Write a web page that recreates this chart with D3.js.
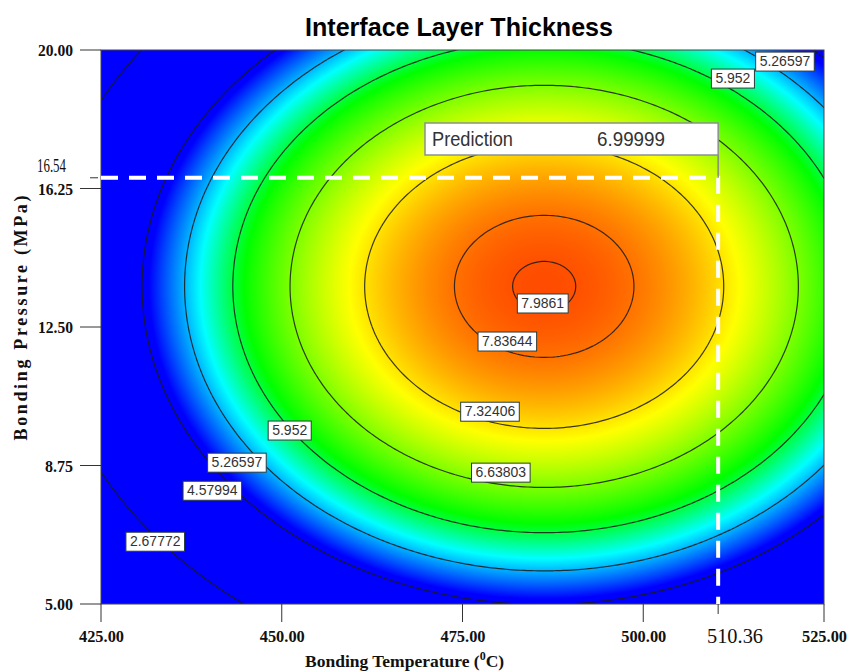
<!DOCTYPE html>
<html>
<head>
<meta charset="utf-8">
<title>Interface Layer Thickness</title>
<script src="https://cdn.jsdelivr.net/npm/d3@7"></script>
<style>
  body { margin: 0; background: #fff; }
  svg { display: block; }
</style>
</head>
<body>
<svg width="857" height="672"></svg>
<script>
// ---- data ----
const tempTicks = [425, 450, 475, 500, 525];
const pressTicks = [5, 8.75, 12.5, 16.25, 20];
const contourLevels = [2.67772, 4.57994, 5.26597, 5.952, 6.63803, 7.32406, 7.83644, 7.9861];

// fitted quadratic response surface (peak, centre, curvature)
const surfacePeak = 8.0073;
const surfaceCentre = [486.3, 13.6];       // temperature, pressure
const surfaceCurv = [1.108e-3, 0.0462];    // per degC^2, per MPa^2

// contour label spots (level, temperature, pressure)
const labelLevels = [7.9861, 7.83644, 7.32406, 6.63803, 5.952, 5.26597, 4.57994, 2.67772, 5.952, 5.26597];
const labelTemps  = [486.1, 481.2, 478.8, 480.3, 451.1, 443.8, 440.4, 432.5, 512.4, 519.6];
const labelPress  = [13.15, 12.12, 10.22, 8.57, 9.71, 8.84, 8.08, 6.70, 19.24, 19.70];

const prediction = { temp: 510.36, press: 16.54, value: "6.99999" };

// colour stops of the surface
const colourValues = [4.7, 5.5, 6.1, 7.2, 8.35];
const colourList = ["#0000ff", "#00ffff", "#00ff00", "#ffff00", "#ff0000"];

// ---- setup ----
const svg = d3.select("svg");
const x = d3.scaleLinear().domain([425, 525]).range([101, 824]);
const y = d3.scaleLinear().domain([5, 20]).range([604, 50]);
const colour = d3.scaleLinear().domain(colourValues).range(colourList).clamp(true);

function surface(t, p) {
  const dt = t - surfaceCentre[0], dp = p - surfaceCentre[1];
  return surfacePeak - surfaceCurv[0] * dt * dt - surfaceCurv[1] * dp * dp;
}

// heat map painted on a canvas, then placed as an image
const pw = Math.round(x(525) - x(425)), ph = Math.round(y(5) - y(20));
const canvas = document.createElement("canvas");
canvas.width = pw; canvas.height = ph;
const ctx = canvas.getContext("2d");
const img = ctx.createImageData(pw, ph);
for (let j = 0; j < ph; j++) {
  const p = y.invert(y(20) + j + 0.5);
  for (let i = 0; i < pw; i++) {
    const t = x.invert(x(425) + i + 0.5);
    const c = d3.rgb(colour(surface(t, p)));
    const k = (j * pw + i) * 4;
    img.data[k] = c.r; img.data[k + 1] = c.g; img.data[k + 2] = c.b; img.data[k + 3] = 255;
  }
}
ctx.putImageData(img, 0, 0);

svg.append("defs").append("clipPath").attr("id", "plotclip")
  .append("rect").attr("x", x(425)).attr("y", y(20)).attr("width", pw).attr("height", ph);

svg.append("image")
  .attr("x", x(425)).attr("y", y(20))
  .attr("width", pw).attr("height", ph)
  .attr("preserveAspectRatio", "none")
  .attr("href", canvas.toDataURL());

// contour lines, grid spans past the plot so ring borders fall outside the clip
const t0 = 410, t1 = 540, p0 = 2, p1 = 23;
const nx = 261, ny = 211;
const dT = (t1 - t0) / (nx - 1), dP = (p1 - p0) / (ny - 1);
const grid = new Array(nx * ny);
for (let j = 0; j < ny; j++) {
  for (let i = 0; i < nx; i++) {
    grid[j * nx + i] = surface(t0 + i * dT, p1 - j * dP);
  }
}
const contours = d3.contours().size([nx, ny]).thresholds(contourLevels)(grid);
const path = d3.geoPath(d3.geoTransform({
  point: function(px, py) {
    this.stream.point(x(t0 + (px - 0.5) * dT), y(p1 - (py - 0.5) * dP));
  }
}));

svg.append("g").attr("clip-path", "url(#plotclip)")
  .selectAll("path")
  .data(contours)
  .join("path")
    .attr("d", path)
    .attr("fill", "none")
    .attr("stroke", "#1a1a1a")
    .attr("stroke-width", 1.2)
    .attr("opacity", 0.85);

// plot frame
svg.append("rect")
  .attr("x", x(425)).attr("y", y(20)).attr("width", pw).attr("height", ph)
  .attr("fill", "none").attr("stroke", "#444").attr("stroke-width", 1);

// prediction guides
svg.append("path")
  .attr("d", `M${x(425)},${y(prediction.press)}H${x(prediction.temp)}V${y(5)}`)
  .attr("fill", "none")
  .attr("stroke", "#ffffff")
  .attr("stroke-width", 4)
  .attr("stroke-dasharray", "17,11");

// contour labels
const labels = svg.append("g");
labelLevels.forEach((lv, i) => {
  const cx = x(labelTemps[i]), cy = y(labelPress[i]);
  const g = labels.append("g");
  const txt = g.append("text")
    .attr("x", cx).attr("y", cy + 5)
    .attr("text-anchor", "middle")
    .attr("font-family", "Liberation Sans, Arial, sans-serif")
    .attr("font-size", 14)
    .attr("fill", "#333")
    .text(String(lv));
  const w = txt.node().getComputedTextLength();
  g.insert("rect", "text")
    .attr("x", cx - w / 2 - 4).attr("y", cy - 9)
    .attr("width", w + 8).attr("height", 19)
    .attr("fill", "#fff")
    .attr("stroke", "#2b3b3b")
    .attr("stroke-width", 1);
});

// prediction box
const bx = 425, by = 123, bw = x(prediction.temp) - 425, bh = 32;
svg.append("line")
  .attr("x1", x(prediction.temp)).attr("x2", x(prediction.temp))
  .attr("y1", by + bh).attr("y2", y(prediction.press))
  .attr("stroke", "#888").attr("stroke-width", 1.5);
svg.append("rect")
  .attr("x", bx).attr("y", by).attr("width", bw).attr("height", bh)
  .attr("fill", "#fff").attr("stroke", "#8a9090").attr("stroke-width", 1.5);
svg.append("text")
  .attr("x", 432).attr("y", by + 23)
  .attr("font-family", "Liberation Sans, Arial, sans-serif")
  .attr("font-size", 21).attr("fill", "#333")
  .attr("textLength", 81).attr("lengthAdjust", "spacingAndGlyphs")
  .text("Prediction");
svg.append("text")
  .attr("x", 597).attr("y", by + 23)
  .attr("font-family", "Liberation Sans, Arial, sans-serif")
  .attr("font-size", 21).attr("fill", "#333")
  .attr("textLength", 68).attr("lengthAdjust", "spacingAndGlyphs")
  .text(prediction.value);

// axes
const serif = "Liberation Serif, Times New Roman, serif";
const xAxis = svg.append("g");
tempTicks.forEach(t => {
  xAxis.append("line")
    .attr("x1", x(t)).attr("x2", x(t)).attr("y1", y(5)).attr("y2", 622)
    .attr("stroke", "#333").attr("stroke-width", 1);
  const s = t.toFixed(2);
  xAxis.append("text")
    .attr("x", x(t) - 22).attr("y", 642)
    .attr("font-family", serif).attr("font-weight", "bold").attr("font-size", 17)
    .attr("textLength", s.length * 7.5).attr("lengthAdjust", "spacingAndGlyphs")
    .attr("fill", "#111")
    .text(s);
});
xAxis.append("line")
  .attr("x1", x(prediction.temp)).attr("x2", x(prediction.temp)).attr("y1", y(5)).attr("y2", 614)
  .attr("stroke", "#333").attr("stroke-width", 1);
xAxis.append("text")
  .attr("x", 707).attr("y", 643)
  .attr("font-family", serif).attr("font-size", 20)
  .attr("textLength", 56).attr("lengthAdjust", "spacingAndGlyphs")
  .attr("fill", "#111")
  .text(prediction.temp.toFixed(2));

const yAxis = svg.append("g");
pressTicks.forEach(p => {
  yAxis.append("line")
    .attr("x1", 80).attr("x2", x(425)).attr("y1", y(p)).attr("y2", y(p))
    .attr("stroke", "#333").attr("stroke-width", 1);
  const s = p.toFixed(2);
  yAxis.append("text")
    .attr("x", 73).attr("y", y(p) + 6)
    .attr("text-anchor", "end")
    .attr("font-family", serif).attr("font-weight", "bold").attr("font-size", 17)
    .attr("textLength", s.length * 7).attr("lengthAdjust", "spacingAndGlyphs")
    .attr("fill", "#111")
    .text(s);
});
yAxis.append("line")
  .attr("x1", 90).attr("x2", 98).attr("y1", y(prediction.press)).attr("y2", y(prediction.press))
  .attr("stroke", "#333").attr("stroke-width", 1);
yAxis.append("text")
  .attr("x", 66).attr("y", 172)
  .attr("text-anchor", "end")
  .attr("font-family", serif).attr("font-size", 18)
  .attr("textLength", 29).attr("lengthAdjust", "spacingAndGlyphs")
  .attr("fill", "#111")
  .text(prediction.press.toFixed(2));

// titles
svg.append("text")
  .attr("x", 305).attr("y", 36)
  .attr("font-family", "Liberation Sans Narrow, Arial Narrow, Liberation Sans, sans-serif")
  .attr("font-weight", "bold").attr("font-size", 26)
  .attr("textLength", 308).attr("lengthAdjust", "spacingAndGlyphs")
  .attr("fill", "#000")
  .text("Interface Layer Thickness");

const xt = svg.append("text")
  .attr("x", 305).attr("y", 667)
  .attr("font-family", serif).attr("font-weight", "bold").attr("font-size", 17.5)
  .attr("fill", "#111");
xt.append("tspan").text("Bonding Temperature (");
xt.append("tspan").attr("font-size", 12).attr("dy", -7).text("0");
xt.append("tspan").attr("dy", 7).text("C)");

svg.append("text")
  .attr("transform", "translate(27,318) rotate(-90)")
  .attr("text-anchor", "middle")
  .attr("font-family", serif).attr("font-weight", "bold").attr("font-size", 18)
  .attr("textLength", 245).attr("lengthAdjust", "spacing")
  .attr("fill", "#111")
  .text("Bonding Pressure (MPa)");
</script>
</body>
</html>
